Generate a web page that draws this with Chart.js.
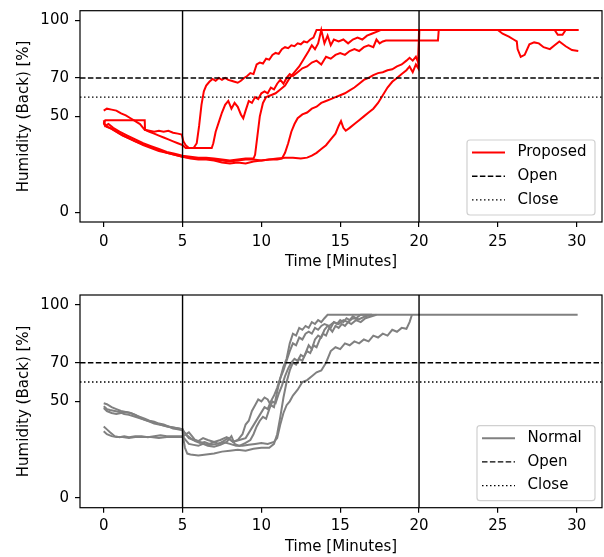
<!DOCTYPE html>
<html lang="en">
<head>
    <meta charset="UTF-8">
    <title>Humidity (Back)</title>
    <!-- Chart.js -->
    <script src="https://cdn.jsdelivr.net/npm/chart.js"></script>
    <style>
        body { margin: 0; background: #fff; }
        .panel { position: absolute; left: 0; width: 604px; }
        #top { top: 0; height: 278px; }
        #bottom { top: 278px; height: 279px; }
    </style>
</head>
<body>
    <div class="panel" id="top"><canvas id="chartTop"></canvas></div>
    <div class="panel" id="bottom"><canvas id="chartBottom"></canvas></div>

    <script>
        // axis ticks and reference levels
        const xTicks = [0, 5, 10, 15, 20, 25, 30];
        const yTicks = [0, 50, 70, 100];
        const xMin = -1.505, xMax = 31.605;
        const yMin = -5, yMax = 105;
        const openLevel = 70;
        const closeLevel = 60;
        const markTimes = [5, 20];

        // proposed runs: [minutes, humidity %]
        const proposed1 = [[0,53],[0.2,54],[0.5,53.5],[0.8,53],[1.1,51.5],[1.4,50.5],[1.7,49],[2,47.5],[2.3,46],[2.6,43],[2.9,42.5],[3.2,42],[3.5,42.5],[3.8,42],[4.1,42.5],[4.4,41.5],[4.7,41],[4.95,40.5],[5.05,37],[5.2,35],[5.4,33.5],[5.7,33.5],[5.9,36],[6.05,45],[6.2,56],[6.35,63],[6.5,66],[6.7,68],[6.9,69.5],[7.1,68.5],[7.3,70],[7.5,69],[7.7,70],[7.9,69],[8.1,68.5],[8.3,68],[8.5,67.5],[8.7,68.5],[8.9,70],[9.1,71],[9.3,72.5],[9.5,72],[9.7,77],[9.9,78],[10.1,77.5],[10.3,80],[10.5,79.5],[10.7,82],[10.9,83],[11.1,82.5],[11.3,85],[11.5,86],[11.7,85.5],[11.9,87],[12.1,86.5],[12.3,88],[12.5,87.5],[12.7,89],[12.9,88.5],[13.1,90],[13.3,91],[13.5,95],[25,95],[25.3,93],[25.7,91.5],[26,90],[26.2,89],[26.25,85],[26.45,81],[26.7,82],[27,87.5],[27.3,88.5],[27.6,88],[27.9,86],[28.3,85],[28.6,87],[28.9,89],[29.3,86.5],[29.7,84.5],[30.1,84]];
        const proposed2 = [[0,46],[0.1,48],[0.4,48],[1,48],[1.8,48],[2.6,48],[2.62,43],[2.9,42],[3.2,41],[3.5,40],[3.8,39],[4.1,38],[4.4,37],[4.7,36],[5,35],[5.2,33.5],[6,33.5],[6.85,33.5],[6.95,36],[7.1,42],[7.3,47],[7.5,52],[7.7,56],[7.9,58],[8.1,54],[8.3,57],[8.5,55],[8.7,51],[8.85,49],[9,53],[9.2,58],[9.4,57],[9.6,60],[9.8,59],[10,62],[10.2,63],[10.4,62],[10.6,65],[10.8,64],[11,67],[11.2,69],[11.4,67],[11.6,70],[11.8,72],[12,71],[12.3,73],[12.6,75],[12.9,76],[13.2,78],[13.5,79],[13.8,77],[14.1,81],[14.4,80],[14.7,82],[15,83],[15.3,82],[15.6,84],[15.9,85],[16.2,84],[16.5,86],[16.8,87],[17.1,86],[17.3,90],[17.5,88],[17.7,89],[17.9,89.5],[21.2,89.5],[21.25,95],[28.6,95],[28.8,92.5],[29.1,92.5],[29.3,95],[30.1,95]];
        const proposed3 = [[0,47],[0.1,45],[0.3,46],[0.6,44],[1,42],[1.5,40],[2,38],[2.5,36],[3,34.5],[3.5,33],[4,31.5],[4.5,30.5],[5,29.5],[5.5,29],[6,28.5],[6.5,28.5],[7,28],[7.5,27.5],[8,27],[8.5,27.5],[9,28],[9.5,28],[9.6,30],[9.75,40],[9.9,50],[10.1,57],[10.3,60],[10.6,61],[10.9,62],[11.2,64],[11.5,66],[11.8,70],[12.1,73],[12.4,76],[12.7,80],[13,84],[13.2,87],[13.4,85],[13.6,88],[13.8,95],[14,88],[14.2,92],[14.4,87],[14.6,90],[14.9,89],[15.2,90],[15.5,88],[15.8,90],[16.1,91],[16.4,90],[16.7,92],[17,93],[17.3,94],[17.6,95],[30.1,95]];
        const proposed4 = [[0,46],[0.2,44.5],[0.5,43.5],[1,41],[1.5,39],[2,37],[2.5,35],[3,33.5],[3.5,32],[4,31],[4.5,30],[5,29],[5.5,28],[6,27.5],[6.5,27.5],[7,27],[7.5,26],[8,25.5],[8.5,26],[9,25.5],[9.5,26.5],[10,27],[10.5,27.5],[11,27.5],[11.3,28],[11.5,31],[11.7,36],[11.9,42],[12.1,46],[12.3,49],[12.6,51],[12.9,52],[13.2,54],[13.5,55],[13.8,57],[14.1,58],[14.4,59],[14.7,60],[15,61],[15.3,62],[15.6,63.5],[15.9,65],[16.2,67],[16.5,69],[16.8,70],[17.1,71.5],[17.4,72.5],[17.7,73],[18,74],[18.3,74.5],[18.6,76],[18.9,77],[19.2,79],[19.4,80.5],[19.6,79],[19.8,81],[19.95,78],[20,95],[30.1,95]];
        const proposed5 = [[0,48],[0.1,45],[0.4,44],[0.8,42],[1.2,40],[1.6,38.5],[2,37],[2.5,35.5],[3,34],[3.5,32.5],[4,31],[4.5,30],[5,29],[5.5,28.5],[6,28],[6.5,28],[7,27.5],[7.5,27],[8,26.5],[8.5,27],[9,27.5],[9.5,27.5],[10,27],[10.5,27.5],[11,28],[11.5,28.5],[12,28.5],[12.5,28],[12.9,28.5],[13.2,29.5],[13.5,31],[13.8,33],[14.1,35],[14.4,38],[14.7,41],[14.9,45],[15.05,47.5],[15.2,44],[15.35,42.5],[15.6,44],[15.9,46],[16.2,48],[16.5,50],[16.8,52],[17.1,54],[17.4,57],[17.7,61],[18,65],[18.3,68],[18.6,70],[18.9,72],[19.2,74],[19.4,76],[19.6,73],[19.8,77],[19.95,75],[20.02,95],[30.1,95]];

        // normal runs: [minutes, humidity %]
        const normal1 = [[0,49],[0.2,48.5],[0.5,47],[0.8,46],[1.1,45],[1.4,44.5],[1.7,44],[2,43],[2.3,42],[2.6,41],[2.9,40],[3.2,39.5],[3.5,38.5],[3.8,38],[4.1,37],[4.4,36.5],[4.7,36],[5,35.5],[5.05,31],[5.15,26],[5.3,23],[5.5,22.5],[6,22],[6.5,22.5],[7,23],[7.5,24],[8,24.5],[8.5,25],[9,24.5],[9.5,25.5],[10,26],[10.5,26],[10.8,28],[11,33],[11.2,42],[11.4,52],[11.6,60],[11.8,66],[12,70],[12.2,69],[12.4,72],[12.6,71],[12.8,75],[13,79],[13.2,77],[13.4,82],[13.6,84],[13.8,83],[14,87],[14.2,89],[14.4,88],[14.6,91],[14.8,90],[15,92],[15.2,91],[15.4,93],[15.6,92],[15.8,94],[16,93],[16.3,94.8],[30.06,94.8]];
        const normal2 = [[0,46.5],[0.2,45],[0.5,44],[0.8,43.5],[1.1,44],[1.4,44.5],[1.7,44],[2,43],[2.3,41.5],[2.6,40.5],[2.9,39.5],[3.2,38.5],[3.5,38],[3.8,37.5],[4.1,37],[4.4,36],[4.7,35.5],[5,35],[5.2,33],[5.5,31],[5.8,29.5],[6.1,28.5],[6.4,29],[6.7,28],[7,29],[7.3,28],[7.6,29.5],[7.9,31],[8.2,29],[8.5,30],[8.8,33],[9,38],[9.2,40],[9.4,45],[9.6,48],[9.8,51],[10,50],[10.2,52],[10.4,51],[10.6,48],[10.8,47],[11,55],[11.2,62],[11.4,68],[11.6,72],[11.8,80],[12,85],[12.2,84],[12.4,88],[12.6,87],[12.8,89],[13,88],[13.2,91],[13.4,90],[13.6,92],[13.8,91],[14,93],[14.2,94.8],[17,94.8]];
        const normal3 = [[0,37],[0.2,35.5],[0.4,34],[0.7,32],[1,31.5],[1.3,32],[1.6,31.5],[2,32],[2.4,32],[2.8,31.5],[3.2,32],[3.6,32.5],[4,32],[4.4,32],[4.8,32],[5,32],[5.2,30],[5.4,28],[5.7,27.5],[6,27],[6.3,28],[6.6,27],[7,26.5],[7.4,27.5],[7.8,29],[8.1,32],[8.3,28],[8.6,27],[9,28.5],[9.3,30],[9.5,33],[9.7,37],[9.9,40],[10.1,42],[10.3,41],[10.5,46],[10.7,50],[10.9,49],[11.1,54],[11.3,58],[11.5,63],[11.7,67],[11.9,70],[12.1,72],[12.3,71],[12.5,74],[12.7,73],[12.9,76],[13.1,75],[13.3,79],[13.5,78],[13.7,82],[13.9,85],[14.1,84],[14.3,88],[14.5,86],[14.7,89],[14.9,88],[15.1,90],[15.3,89],[15.5,91],[15.7,90],[16,92],[16.3,91],[16.6,93],[17,94],[17.3,94.8]];
        const normal4 = [[0,34.5],[0.2,33],[0.5,32],[0.8,31.5],[1.2,31.5],[1.6,31],[2,31.5],[2.5,31.5],[3,31.5],[3.5,31],[4,31.5],[4.5,31.5],[5,31.5],[5.2,33],[5.4,34],[5.6,32],[5.8,30],[6.1,29],[6.4,28],[6.8,27.5],[7.2,28],[7.6,29],[8,28],[8.4,27],[8.8,27],[9.2,27.5],[9.6,28],[10,28.5],[10.4,28],[10.8,29],[11,31],[11.2,38],[11.4,44],[11.6,48],[11.8,50],[12,53],[12.3,56],[12.6,60],[12.9,61],[13.2,63],[13.5,65],[13.8,66],[14.1,70],[14.4,76],[14.7,78],[15,77],[15.3,80],[15.6,79],[15.9,81],[16.2,80],[16.5,82],[16.8,81],[17.1,84],[17.4,83],[17.7,85],[18,84],[18.3,87],[18.6,86],[18.9,88],[19.2,87.5],[19.4,91],[19.55,94.8]];
        const normal5 = [[0,47.5],[0.2,46],[0.4,45.5],[0.7,45],[1,44.5],[1.3,43.5],[1.6,43],[2,42],[2.4,41],[2.8,40],[3.2,39],[3.6,38],[4,37],[4.4,36.5],[4.8,36],[5,35.5],[5.2,33],[5.4,31],[5.7,30],[6,29.5],[6.3,31],[6.6,30],[7,29],[7.4,30],[7.8,31.5],[8.2,29],[8.6,30],[9,31],[9.3,35],[9.6,39],[9.9,43],[10.2,47],[10.4,46],[10.6,50],[10.8,53],[11,57],[11.2,62],[11.4,66],[11.6,71],[11.8,76],[12,80],[12.2,79],[12.4,83],[12.6,82],[12.8,85],[13,86],[13.2,85],[13.4,88],[13.6,87],[13.8,89],[14,90],[14.3,89],[14.6,91],[14.9,90],[15.2,92],[15.5,91],[15.8,93],[16.2,92.5],[16.6,94],[17,94.8]];

        const proposedRuns = [proposed1, proposed2, proposed3, proposed4, proposed5];
        const normalRuns = [normal1, normal2, normal3, normal4, normal5];

        const font = { family: '"DejaVu Sans", sans-serif', size: 15 };
        const openDash = [5.5, 2.4];
        const closeDash = [1.5, 2.5];

        // box around the plot area (matplotlib spines)
        const framePlugin = {
            id: 'frame',
            afterDatasetsDraw(chart) {
                const { ctx, chartArea: a } = chart;
                ctx.save();
                ctx.strokeStyle = '#000';
                ctx.lineWidth = 1.2;
                ctx.strokeRect(a.left, a.top, a.right - a.left, a.bottom - a.top);
                ctx.restore();
            }
        };

        // legend box in the lower right corner
        const boxLegend = {
            id: 'boxLegend',
            afterDraw(chart, args, opts) {
                const { ctx, chartArea: a } = chart;
                const w = opts.width, h = 75;
                const x0 = a.right - 7 - w, y0 = a.bottom - 7 - h;
                ctx.save();
                ctx.fillStyle = 'rgba(255,255,255,0.8)';
                ctx.strokeStyle = '#d0d0d0';
                ctx.lineWidth = 1.2;
                ctx.beginPath();
                ctx.roundRect(x0, y0, w, h, 3);
                ctx.fill();
                ctx.stroke();
                ctx.font = '15px "DejaVu Sans", sans-serif';
                ctx.textBaseline = 'middle';
                opts.items.forEach((it, i) => {
                    const y = y0 + 12.5 + i * 23.7;
                    ctx.beginPath();
                    ctx.setLineDash(it.dash);
                    ctx.strokeStyle = it.color;
                    ctx.lineWidth = it.width;
                    ctx.moveTo(x0 + 5, y);
                    ctx.lineTo(x0 + 38, y);
                    ctx.stroke();
                    ctx.setLineDash([]);
                    ctx.fillStyle = '#000';
                    ctx.fillText(it.label, x0 + 50.5, y);
                });
                ctx.restore();
            }
        };

        function buildDatasets(runs, color) {
            const sets = runs.map(run => ({
                data: run.map(([x, y]) => ({ x, y })),
                borderColor: color,
                borderWidth: 2,
                pointRadius: 0,
                tension: 0,
                fill: false,
                order: 2
            }));
            markTimes.forEach(t => sets.push({
                data: [{ x: t, y: yMin }, { x: t, y: yMax }],
                borderColor: '#000', borderWidth: 1.4, pointRadius: 0, order: 1
            }));
            sets.push({
                data: [{ x: xMin, y: openLevel }, { x: xMax, y: openLevel }],
                borderColor: '#000', borderWidth: 1.4, borderDash: openDash, pointRadius: 0, order: 1
            });
            sets.push({
                data: [{ x: xMin, y: closeLevel }, { x: xMax, y: closeLevel }],
                borderColor: '#000', borderWidth: 1.4, borderDash: closeDash, pointRadius: 0, order: 1
            });
            return sets;
        }

        function makeOptions(cfg) {
            return {
                responsive: true,
                maintainAspectRatio: false,
                animation: false,
                devicePixelRatio: 1,
                layout: { autoPadding: false, padding: { top: cfg.padTop, right: 2, left: 0, bottom: 0 } },
                plugins: {
                    legend: { display: false },
                    tooltip: { enabled: false },
                    boxLegend: { items: cfg.items, width: cfg.legendWidth }
                },
                scales: {
                    x: {
                        type: 'linear',
                        min: xMin,
                        max: xMax,
                        afterFit: s => { s.height = cfg.xHeight; s.paddingLeft = 0; s.paddingRight = 0; },
                        afterBuildTicks: s => { s.ticks = xTicks.map(v => ({ value: v })); },
                        ticks: { color: '#000', font: font, padding: cfg.xTickPad, maxRotation: 0, autoSkip: false },
                        grid: { display: true, drawOnChartArea: false, tickLength: 5, color: '#000', lineWidth: 1.2 },
                        border: { display: false },
                        title: { display: true, text: 'Time [Minutes]', color: '#000', font: font, padding: { top: 0, bottom: cfg.xTitlePad } }
                    },
                    y: {
                        min: yMin,
                        max: yMax,
                        // fixed axis width, and no extra room kept for the end labels
                        afterFit: s => { s.width = 80; s.paddingTop = 0; s.paddingBottom = 0; },
                        afterBuildTicks: s => { s.ticks = yTicks.map(v => ({ value: v })); },
                        ticks: { color: '#000', font: font, padding: 6 },
                        grid: { display: true, drawOnChartArea: false, tickLength: 5, color: '#000', lineWidth: 1.2 },
                        border: { display: false },
                        title: { display: true, text: 'Humidity (Back) [%]', color: '#000', font: font, padding: { top: 15, bottom: 0 } }
                    }
                }
            };
        }

        function legendItems(label, color) {
            return [
                { label: label, color: color, width: 2, dash: [] },
                { label: 'Open', color: '#000', width: 1.4, dash: openDash },
                { label: 'Close', color: '#000', width: 1.4, dash: closeDash }
            ];
        }

        new Chart(document.getElementById('chartTop'), {
            type: 'line',
            data: { datasets: buildDatasets(proposedRuns, '#ff0000') },
            options: makeOptions({
                padTop: 10.7, xHeight: 56, xTickPad: 5.7, xTitlePad: 7.3,
                legendWidth: 128, items: legendItems('Proposed', '#ff0000')
            }),
            plugins: [framePlugin, boxLegend]
        });

        new Chart(document.getElementById('chartBottom'), {
            type: 'line',
            data: { datasets: buildDatasets(normalRuns, '#808080') },
            options: makeOptions({
                padTop: 17, xHeight: 49.3, xTickPad: 4.5, xTitlePad: 1.3,
                legendWidth: 118, items: legendItems('Normal', '#808080')
            }),
            plugins: [framePlugin, boxLegend]
        });
    </script>
</body>
</html>
